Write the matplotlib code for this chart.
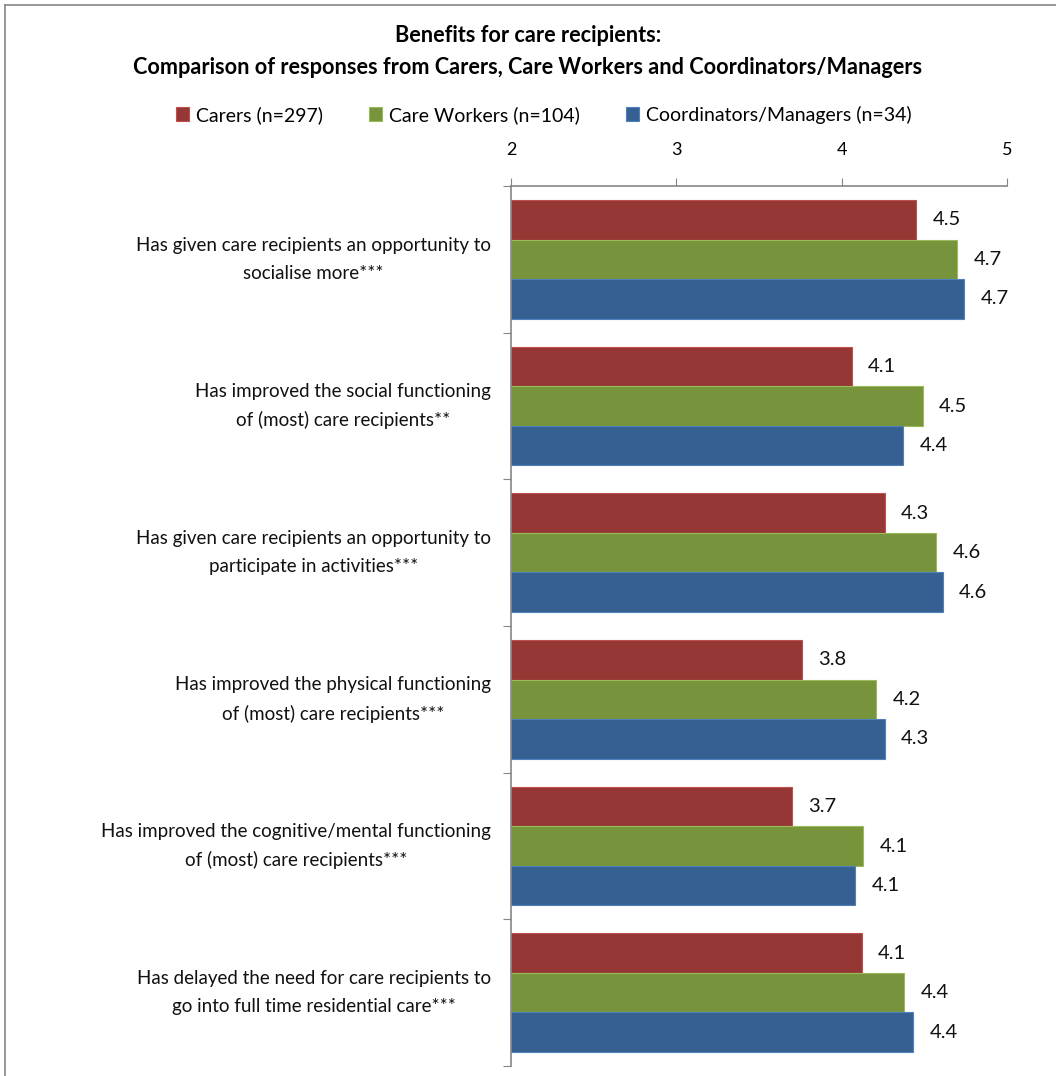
import matplotlib
matplotlib.use("Agg")
import matplotlib.pyplot as plt
import numpy as np
from matplotlib.lines import Line2D

plt.rcParams['font.family'] = ['Lato', 'DejaVu Sans']

categories = [
    "Has given care recipients an opportunity to\nsocialise more***",
    "Has improved the social functioning\nof (most) care recipients**",
    "Has given care recipients an opportunity to\nparticipate in activities***",
    "Has improved the physical functioning\nof (most) care recipients***",
    "Has improved the cognitive/mental functioning\nof (most) care recipients***",
    "Has delayed the need for care recipients to\ngo into full time residential care***",
]
series_names = ["Carers (n=297)", "Care Workers (n=104)", "Coordinators/Managers (n=34)"]
carers = [4.45, 4.06, 4.26, 3.76, 3.70, 4.12]
care_workers = [4.70, 4.49, 4.57, 4.21, 4.13, 4.38]
coordinators = [4.74, 4.37, 4.61, 4.26, 4.08, 4.43]
xticks = [2, 3, 4, 5]

colors = ["#953735", "#77933C", "#376092"]
edges = ["#C0504D", "#9BBB59", "#4F81BD"]

fig = plt.figure(figsize=(10.56, 10.76), dpi=100)
# outer border (top and left visible)
fig.lines.append(Line2D([5/1056, 5/1056], [0, 1 - 5/1076], transform=fig.transFigure,
                        color="#868686", linewidth=1.2))
fig.lines.append(Line2D([5/1056, 1], [1 - 5/1076, 1 - 5/1076], transform=fig.transFigure,
                        color="#868686", linewidth=1.2))

ax = fig.add_axes([511/1056, 1 - 1066/1076, (1007 - 511)/1056, (1066 - 186)/1076])

n = len(categories)
bh = 0.27
y = np.arange(n)
data = [carers, care_workers, coordinators]
for i, (vals, c, e, name) in enumerate(zip(data, colors, edges, series_names)):
    pos = y + (i - 1) * bh
    ax.barh(pos, np.array(vals) - 2, left=2, height=bh, color=c, edgecolor=e,
            linewidth=0.8, label=name)
    for p, v in zip(pos, vals):
        ax.text(v + 0.1, p, f"{v:.1f}", va="center", ha="left", fontsize=14.5, color="#111111")

ax.set_xlim(2, 5)
ax.set_ylim(n - 0.5, -0.5)
ax.xaxis.tick_top()
ax.set_xticks(xticks)
ax.set_xticklabels([str(t) for t in xticks], fontsize=13)
ax.tick_params(axis='x', direction='out', length=6, color="#868686", pad=14)
ax.set_yticks(np.arange(n + 1) - 0.5, minor=False)
ax.set_yticklabels([])
ax.tick_params(axis='y', direction='out', length=6, color="#868686")
for s in ["right", "bottom"]:
    ax.spines[s].set_visible(False)
for s in ["left", "top"]:
    ax.spines[s].set_color("#868686")
    ax.spines[s].set_linewidth(1.2)

for yi, cat in zip(y, categories):
    ax.text(-0.04, yi, cat, transform=ax.get_yaxis_transform(), ha="right", va="center",
            multialignment="center", fontsize=13.5, linespacing=1.75, color="#111111")

fig.text(0.5, 1 - 36/1076, "Benefits for care recipients:", ha="center", va="center",
         fontsize=15.6, fontweight="bold")
fig.text(0.5, 1 - 68/1076, "Comparison of responses from Carers, Care Workers and Coordinators/Managers",
         ha="center", va="center", fontsize=15.6, fontweight="bold")

handles, labels = ax.get_legend_handles_labels()
fig.legend(handles, labels, loc="center", bbox_to_anchor=(0.515, 1 - 115/1076), ncol=3,
           frameon=False, fontsize=14, handlelength=0.65, handleheight=0.7,
           handletextpad=0.35, columnspacing=2.4)

fig.savefig("out.png", dpi=100)
